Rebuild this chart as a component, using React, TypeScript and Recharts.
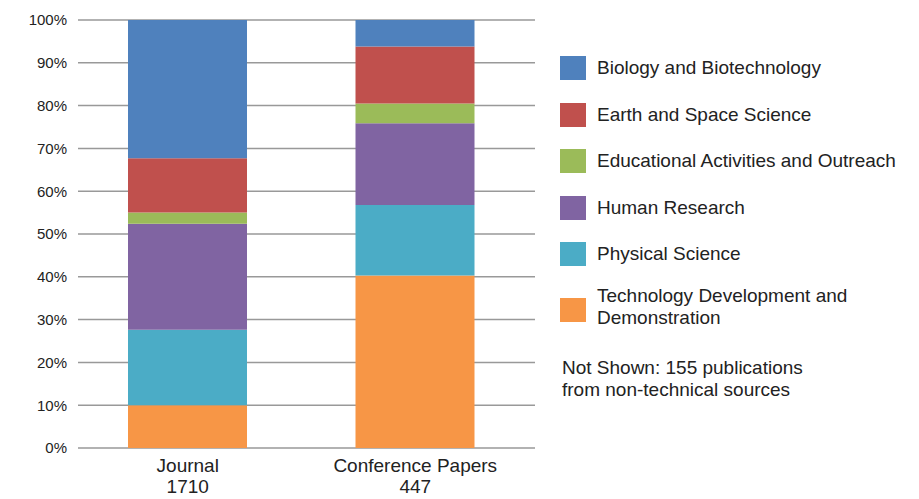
import React from 'react';
import { BarChart, Bar, XAxis, YAxis, CartesianGrid } from 'recharts';

const categories = ['Journal', 'Conference Papers'];
const counts = [1710, 447];
const techDev = [10.0, 40.3];
const physical = [17.6, 16.5];
const human = [24.8, 19.1];
const education = [2.6, 4.6];
const earth = [12.7, 13.3];
const biology = [32.3, 6.2];
const yTicks = [0, 10, 20, 30, 40, 50, 60, 70, 80, 90, 100];

const seriesKeys = ['tech', 'phys', 'human', 'edu', 'earth', 'bio'];
const seriesNames = [
  'Technology Development and Demonstration',
  'Physical Science',
  'Human Research',
  'Educational Activities and Outreach',
  'Earth and Space Science',
  'Biology and Biotechnology',
];
const seriesColors = ['#F79646', '#4BACC6', '#8064A2', '#9BBB59', '#C0504D', '#4F81BD'];
const legendLines = [
  ['Biology and Biotechnology'],
  ['Earth and Space Science'],
  ['Educational Activities and Outreach'],
  ['Human Research'],
  ['Physical Science'],
  ['Technology Development and', 'Demonstration'],
];
const legendColors = ['#4F81BD', '#C0504D', '#9BBB59', '#8064A2', '#4BACC6', '#F79646'];
const noteLines = ['Not Shown: 155 publications', 'from non-technical sources'];

const data = categories.map((c, i) => ({
  name: c,
  count: counts[i],
  tech: techDev[i],
  phys: physical[i],
  human: human[i],
  edu: education[i],
  earth: earth[i],
  bio: biology[i],
}));

const FONT = '"Liberation Sans", Arial, Helvetica, sans-serif';

const XTick = (props: any) => {
  const { x, y, payload } = props;
  const idx = categories.indexOf(payload.value);
  return (
    <g transform={`translate(${x},${y})`}>
      <text textAnchor="middle" fontFamily={FONT} fontSize={19} fill="#222">
        <tspan x={0} dy={24}>{payload.value}</tspan>
        <tspan x={0} dy={21}>{counts[idx]}</tspan>
      </text>
    </g>
  );
};

const LegendBlock = () => (
  <div
    style={{
      position: 'absolute',
      left: 560,
      top: 56,
      width: 355,
      fontFamily: FONT,
      fontSize: 19,
      color: '#222',
      lineHeight: '22px',
    }}
  >
    {legendLines.map((lines, i) => (
      <div key={i} style={{ display: 'flex', alignItems: 'flex-start', height: i === 5 ? 60 : 46.5 }}>
        <div
          style={{
            width: 26,
            height: 24,
            background: legendColors[i],
            marginTop: lines.length > 1 ? 9 : 0,
            flexShrink: 0,
          }}
        />
        <div style={{ marginLeft: 11, marginTop: lines.length > 1 ? -4 : 1 }}>
          {lines.map((l, j) => (
            <div key={j} style={{ whiteSpace: 'nowrap' }}>{l}</div>
          ))}
        </div>
      </div>
    ))}
    <div style={{ marginTop: 8, marginLeft: 2 }}>
      {noteLines.map((l, j) => (
        <div key={j} style={{ whiteSpace: 'nowrap' }}>{l}</div>
      ))}
    </div>
  </div>
);

export default function App() {
  return (
    <div style={{ position: 'absolute', left: 0, top: 0, width: 919, height: 499, background: '#fff' }}>
      <BarChart
        width={919}
        height={499}
        data={data}
        margin={{ top: 20, right: 384, bottom: 0, left: 0 }}
      >
        <CartesianGrid vertical={false} stroke="#999" strokeWidth={1.5} />
        <XAxis
          dataKey="name"
          height={51}
          axisLine={false}
          tickLine={false}
          tickSize={0}
          tickMargin={0}
          tick={<XTick />}
          padding={{ left: -4, right: 6 }}
          interval={0}
        />
        <YAxis
          width={78}
          domain={[0, 100]}
          ticks={yTicks}
          axisLine={false}
          tickLine={false}
          tickSize={0}
          tickMargin={11}
          tickFormatter={(v: number) => `${v}%`}
          tick={{ fontFamily: FONT, fontSize: 15, fill: '#222' }}
          interval={0}
        />
        {seriesKeys.map((k, i) => (
          <Bar
            key={k}
            dataKey={k}
            name={seriesNames[i]}
            stackId="a"
            fill={seriesColors[i]}
            barSize={119}
            isAnimationActive={false}
          />
        ))}
      </BarChart>
      <LegendBlock />
    </div>
  );
}
